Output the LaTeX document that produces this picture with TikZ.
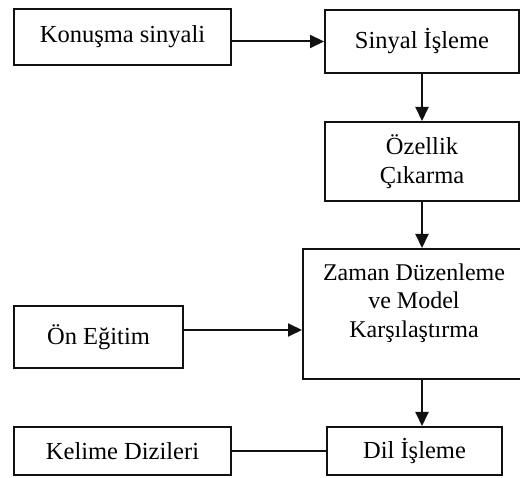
\documentclass[tikz,border=0pt]{standalone}
\usepackage{fontspec}
\setmainfont{Liberation Serif}
\usetikzlibrary{positioning, arrows.meta}
\usepackage{xcolor}
\definecolor{lineblack}{HTML}{111111}

\begin{document}
\begin{tikzpicture}[x=1pt, y=-1pt,
    box/.style={draw=lineblack, line width=2pt, align=center, inner sep=0pt,
                font=\fontsize{24.5}{29}\selectfont},
    arr/.style={draw=lineblack, line width=2pt, -{Triangle[length=14pt, width=13pt]}},
    link/.style={draw=lineblack, line width=2pt}]
  \clip (0,0) rectangle (520,478);
  \fill[white] (0,0) rectangle (520,478);
  % left column
  \node[box, minimum width=217pt, minimum height=56pt] (konusma) at (122.5,37) {Konuşma sinyali};
  \node[box, minimum width=169pt, minimum height=62pt] (onegitim) at (98.5,337) {Ön Eğitim};
  \node[box, minimum width=217pt, minimum height=48pt] (kelime) at (122.5,451) {Kelime Dizileri};
  % right column
  \node[box, minimum width=194pt, minimum height=63pt] (sinyal) at (422,41.5) {Sinyal İşleme};
  \node[box, minimum width=194pt, minimum height=79pt] (ozellik) at (422,161.5) {Özellik\\Çıkarma};
  \node[box, minimum width=222pt, minimum height=130pt] (zaman) at (414,314) {};
  \node[align=center, inner sep=0pt, font=\fontsize{24}{28.5}\selectfont] (zamanlbl) at (414,303)
    {Zaman Düzenleme\\ve Model\\Karşılaştırma};
  \node[box, minimum width=175pt, minimum height=48pt] (dil) at (414.5,451) {Dil İşleme};
  % connectors
  \draw[arr] (konusma.east |- sinyal.west) -- (sinyal.west);
  \draw[arr] (sinyal.south) -- (ozellik.north);
  \draw[arr] (ozellik.south) -- (ozellik.south |- zaman.north);
  \draw[arr] (onegitim.east) ++(0,-7) -- (zaman.west |- 0,330);
  \draw[arr] (ozellik.south |- zaman.south) -- (ozellik.south |- dil.north);
  \draw[link] (kelime.east) -- (dil.west);
\end{tikzpicture}
\end{document}
